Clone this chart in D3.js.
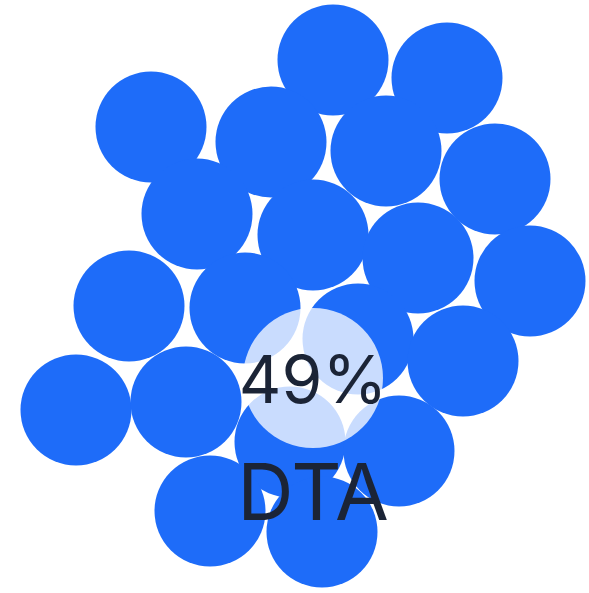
<!DOCTYPE html>
<html>
<head>
<meta charset="utf-8">
<script src="https://cdn.jsdelivr.net/npm/d3@7"></script>
<style>
  html, body { margin: 0; padding: 0; background: #fff; }
  svg { display: block; }
</style>
</head>
<body>
<div id="chart"></div>
<script>
// dot positions (layout units)
const dotX = [333, 447, 151, 271, 386, 495, 197, 313, 418, 530, 129, 245, 358, 463, 76, 186, 290, 399, 210, 322];
const dotY = [60, 78, 127, 142, 151, 179, 214, 235, 258, 281, 306, 308, 339, 361, 410, 402, 442, 451, 511, 532];
const focusX = [313];
const focusY = [378];
const focusValue = ["49%"];
const focusLabel = ["DTA"];

(function() {
    const width = 589, height = 593;

    const x = d3.scaleLinear().domain([0, 589]).range([0, width]);
    const y = d3.scaleLinear().domain([0, 593]).range([0, height]);

    const svg = d3.select("#chart").append("svg")
      .attr("width", width)
      .attr("height", height);

    const dots = dotX.map((d, i) => ({x: d, y: dotY[i]}));

    svg.append("g").selectAll("circle")
      .data(dots)
      .enter().append("circle")
        .attr("cx", d => x(d.x))
        .attr("cy", d => y(d.y))
        .attr("r", 55.5)
        .attr("fill", "#1e6cf9");

    const focus = focusX.map((d, i) => ({x: d, y: focusY[i], value: focusValue[i], label: focusLabel[i]}));

    const g = svg.append("g").selectAll("g")
      .data(focus)
      .enter().append("g");

    g.append("circle")
      .attr("cx", d => x(d.x))
      .attr("cy", d => y(d.y))
      .attr("r", 70)
      .attr("fill", "#fff")
      .attr("fill-opacity", 0.76);

    g.append("text")
      .attr("x", d => x(d.x))
      .attr("y", d => y(d.y) + 25)
      .attr("text-anchor", "middle")
      .style("font-family", "Inter, 'Noto Sans', sans-serif")
      .style("font-size", "66px")
      .style("fill", "#1b2436")
      .text(d => d.value);

    g.append("text")
      .attr("x", d => x(d.x))
      .attr("y", d => y(d.y) + 142)
      .attr("text-anchor", "middle")
      .style("font-family", "Inter, 'Noto Sans', sans-serif")
      .style("font-size", "78px")
      .style("fill", "#1b2436")
      .text(d => d.label);
})()
</script>
</body>
</html>
